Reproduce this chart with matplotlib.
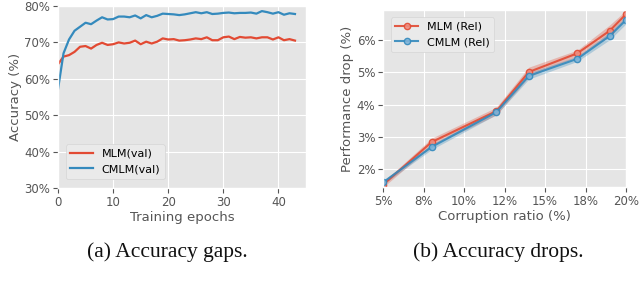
import matplotlib
matplotlib.use("Agg")
import matplotlib.pyplot as plt
import numpy as np
from matplotlib.ticker import FuncFormatter, FixedLocator

plt.style.use("ggplot")

# ---- Left panel data (accuracy per training epoch) ----
epochs = list(range(44))
mlm_val = [64.0, 66.1, 66.5, 67.4, 68.8, 69.0, 68.3, 69.3, 69.9, 69.3,
           69.5, 70.0, 69.7, 69.9, 70.5, 69.5, 70.2, 69.7, 70.2, 71.1,
           70.8, 70.9, 70.5, 70.6, 70.8, 71.1, 70.9, 71.4, 70.6, 70.6,
           71.4, 71.6, 70.9, 71.5, 71.3, 71.4, 71.1, 71.4, 71.4, 70.8,
           71.4, 70.6, 70.9, 70.5]
cmlm_val = [57.1, 67.0, 70.8, 73.2, 74.3, 75.4, 75.0, 76.0, 76.9, 76.3,
            76.4, 77.1, 77.1, 76.9, 77.4, 76.6, 77.5, 76.9, 77.3, 77.9,
            77.8, 77.7, 77.5, 77.7, 78.0, 78.3, 78.0, 78.3, 77.8, 77.9,
            78.1, 78.2, 78.0, 78.1, 78.1, 78.2, 77.9, 78.6, 78.3, 77.9,
            78.3, 77.6, 78.0, 77.8]

# ---- Right panel data (performance drop vs corruption ratio) ----
ratios = [5, 8, 12, 14, 17, 19, 20]
mlm_rel = [1.52, 2.84, 3.80, 5.01, 5.59, 6.29, 6.80]
mlm_err = [0.08, 0.12, 0.12, 0.15, 0.10, 0.18, 0.12]
cmlm_rel = [1.59, 2.69, 3.77, 4.89, 5.42, 6.13, 6.62]
cmlm_err = [0.06, 0.08, 0.08, 0.10, 0.08, 0.12, 0.12]

left_ticks = [30, 40, 50, 60, 70, 80]
right_xticks = [5, 7.5, 10, 12.5, 15, 17.5, 20]
right_yticks = [2, 3, 4, 5, 6]

red = "#E24A33"
blue = "#348ABD"
pct = FuncFormatter(lambda v, p: "%.0f%%" % v)

fig = plt.figure(figsize=(6.4, 2.99), dpi=100)
fig.patch.set_facecolor("white")

# Left
ax1 = fig.add_axes([58/640, 1 - 188/299, (306-58)/640, (188-6)/299])
ax1.plot(epochs, mlm_val, color=red, lw=1.6, label="MLM(val)")
ax1.plot(epochs, cmlm_val, color=blue, lw=1.6, label="CMLM(val)")
ax1.set_xlim(0, 45)
ax1.set_ylim(30, 80)
ax1.set_yticks(left_ticks)
ax1.yaxis.set_major_formatter(pct)
ax1.set_xticks([0, 10, 20, 30, 40])
ax1.set_xlabel("Training epochs", fontsize=9.5, color="#555555", labelpad=2)
ax1.set_ylabel("Accuracy (%)", fontsize=9.5, color="#555555", labelpad=2)
ax1.tick_params(labelsize=8.5, colors="#555555", pad=2)
ax1.legend(loc="lower left", fontsize=8, bbox_to_anchor=(0.01, 0.02),
           facecolor="#EAEAEA", edgecolor="#D5D5D5", framealpha=1)

# Right
ax2 = fig.add_axes([383/640, 1 - 187/299, (626-383)/640, (187-10)/299])
r = np.array(ratios)
m = np.array(mlm_rel); me = np.array(mlm_err)
c = np.array(cmlm_rel); ce = np.array(cmlm_err)
ax2.fill_between(r, m - me, m + me, color=red, alpha=0.3, lw=0)
ax2.fill_between(r, c - ce, c + ce, color=blue, alpha=0.3, lw=0)
ax2.plot(r, m, color=red, lw=1.5, marker="o", ms=4.5, mfc="#EE8E80",
         mec=red, mew=1, alpha=0.9, label="MLM (Rel)")
ax2.plot(r, c, color=blue, lw=1.5, marker="o", ms=4.5, mfc="#7FB3D8",
         mec=blue, mew=1, alpha=0.9, label="CMLM (Rel)")
ax2.set_xlim(5, 20)
ax2.set_ylim(1.45, 6.93)
ax2.xaxis.set_major_locator(FixedLocator(right_xticks))
ax2.set_yticks(right_yticks)
ax2.xaxis.set_major_formatter(pct)
ax2.yaxis.set_major_formatter(pct)
ax2.set_xlabel("Corruption ratio (%)", fontsize=9.5, color="#555555", labelpad=2)
ax2.set_ylabel("Performance drop (%)", fontsize=9.5, color="#555555", labelpad=2)
ax2.tick_params(labelsize=8.5, colors="#555555", pad=2)
ax2.legend(loc="upper left", fontsize=8, bbox_to_anchor=(0.01, 0.99),
           facecolor="#EAEAEA", edgecolor="#D5D5D5", framealpha=1)

# Captions
fig.text(167/640, 1 - 252/299, "(a) Accuracy gaps.", ha="center", va="center",
         fontsize=15.5, family="Liberation Serif", color="#111111")
fig.text(498/640, 1 - 252/299, "(b) Accuracy drops.", ha="center", va="center",
         fontsize=15.5, family="Liberation Serif", color="#111111")

fig.savefig("out.png", dpi=100, facecolor="white")
